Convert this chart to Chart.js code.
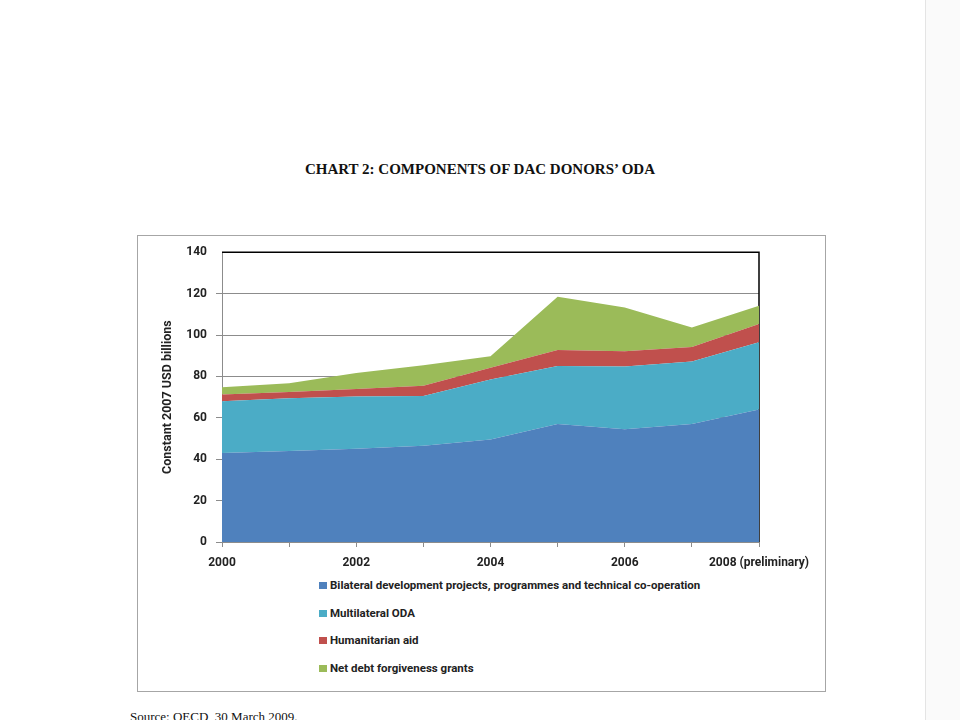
<!DOCTYPE html>
<html>
<head>
<meta charset="utf-8">
<script src="https://cdn.jsdelivr.net/npm/chart.js@4/dist/chart.umd.min.js"></script>
<style>
  body { margin: 0; width: 960px; height: 720px; background: #fff; position: relative; overflow: hidden; }
  #side { position: absolute; left: 925px; top: 0; width: 35px; height: 720px; background: #fafafa; border-left: 1px solid #e4e4e4; }
  #title { position: absolute; left: 0; width: 960px; top: 161px; text-align: center;
    font: bold 15px "Liberation Serif", "Times New Roman", serif; color: #111; }
  #frame { position: absolute; left: 137px; top: 235px; width: 687px; height: 455px; border: 1px solid #a6a6a6; }
  #wrap { position: absolute; left: 138px; top: 236px; width: 687px; height: 340px; }
  #legend { position: absolute; left: 319px; top: 577px; font: bold 11.5px Roboto, "Open Sans", sans-serif; color: #222; }
  #legend div { height: 27.7px; line-height: 16px; white-space: nowrap; }
  #legend span { display: inline-block; width: 8px; height: 7px; margin-right: 3px; vertical-align: 0px; }
  #source { position: absolute; left: 130px; top: 709px; font: 13px "Liberation Serif", "Times New Roman", serif; color: #111; }
</style>
</head>
<body>
<div id="side"></div>
<div id="title">CHART 2: COMPONENTS OF DAC DONORS’ ODA</div>
<div id="frame"></div>
<div id="wrap"><canvas id="odaChart"></canvas></div>
<div id="legend"></div>
<div id="source">Source: OECD, 30 March 2009.</div>
<script>
// Data (constant 2007 USD billions)
const years = ['2000', '2001', '2002', '2003', '2004', '2005', '2006', '2007', '2008 (preliminary)'];
const bilateral = [43, 44, 45, 46.5, 49.5, 57, 54.5, 57, 64];
const multilateral = [25, 25.5, 25.3, 24, 29, 28, 30.3, 30.2, 32.5];
const humanitarian = [3.3, 3, 3.6, 5, 5.7, 7.8, 7.4, 7, 8.8];
const debtRelief = [3.5, 4.2, 7.8, 9.9, 5.5, 25.7, 21.1, 9.4, 8.8];
const yTicks = [0, 20, 40, 60, 80, 100, 120, 140];

const seriesNames = [
  'Bilateral development projects, programmes and technical co-operation',
  'Multilateral ODA',
  'Humanitarian aid',
  'Net debt forgiveness grants',
];
const seriesColors = ['#4f81bd', '#4bacc6', '#c0504d', '#9bbb59'];
const seriesData = [bilateral, multilateral, humanitarian, debtRelief];

// black top/right border of the plot area, drawn under the areas
const plotBorder = {
  id: 'plotBorder',
  beforeDatasetsDraw(chart) {
    const { ctx, chartArea: a } = chart;
    ctx.save();
    ctx.strokeStyle = '#000';
    ctx.lineWidth = 1.5;
    ctx.beginPath();
    ctx.moveTo(a.left, a.top);
    ctx.lineTo(a.right, a.top);
    ctx.lineTo(a.right, a.bottom);
    ctx.stroke();
    ctx.restore();
  },
};

const tickFont = { family: 'Roboto, "Open Sans", sans-serif', size: 12, weight: 'bold' };

const chart = new Chart(document.getElementById('odaChart'), {
  type: 'line',
  data: {
    labels: years,
    datasets: seriesData.map((d, i) => ({
      label: seriesNames[i],
      data: d,
      backgroundColor: seriesColors[i],
      borderColor: seriesColors[i],
      borderWidth: 0,
      pointRadius: 0,
      tension: 0,
      fill: i === 0 ? 'origin' : '-1',
    })),
  },
  options: {
    responsive: true,
    maintainAspectRatio: false,
    animation: false,
    layout: { padding: { left: 0, top: 15, right: 66, bottom: 0 } },
    plugins: {
      legend: { display: false },
      tooltip: { enabled: false },
    },
    scales: {
      x: {
        offset: false,
        grid: { drawOnChartArea: false, tickLength: 5, color: '#8c8c8c' },
        border: { color: '#8c8c8c' },
        ticks: {
          autoSkip: false,
          maxRotation: 0,
          padding: 9,
          color: '#222',
          font: tickFont,
          callback: (v, i) => (i % 2 === 0 ? years[i] : ''),
        },
        afterFit: (s) => { s.height = 34; },
      },
      y: {
        stacked: true,
        min: 0,
        max: 140,
        afterBuildTicks: (s) => { s.ticks = yTicks.map((v) => ({ value: v })); },
        grid: { tickLength: 6, color: (c) => (c.tick.value === 140 ? 'rgba(0,0,0,0)' : '#8c8c8c') },
        border: { color: '#8c8c8c' },
        ticks: { padding: 9, color: '#222', font: tickFont },
        title: {
          display: true,
          text: 'Constant 2007 USD billions',
          color: '#222',
          font: { family: 'Roboto, "Open Sans", sans-serif', size: 12.5, weight: 'bold' },
          padding: { top: 22, bottom: 0 },
        },
        afterFit: (s) => { s.width = 84; },
      },
    },
  },
  plugins: [plotBorder],
});

// legend listed vertically below the chart
document.getElementById('legend').innerHTML = chart.data.datasets
  .map((ds) => `<div><span style="background:${ds.backgroundColor}"></span>${ds.label}</div>`)
  .join('');
</script>
</body>
</html>
